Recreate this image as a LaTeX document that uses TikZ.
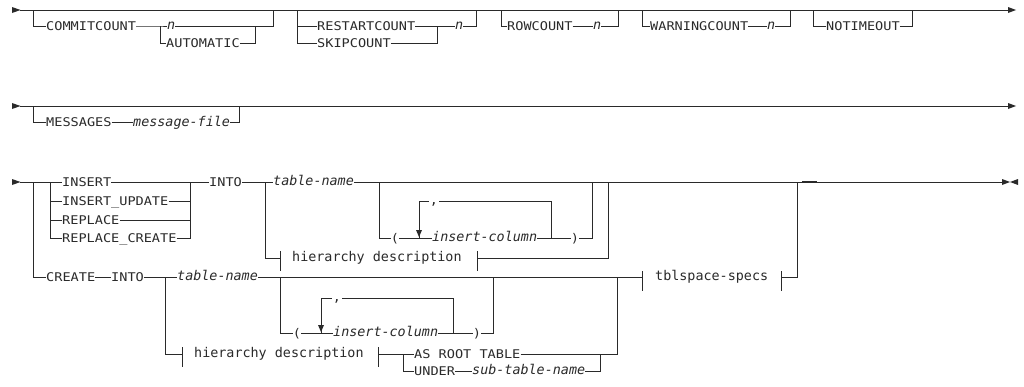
\documentclass[tikz,border=0pt]{standalone}
\usepackage{fontspec}
\newfontfamily\kwfont[FakeStretch=1.13]{DejaVu Sans Mono}
\newfontfamily\frfont{DejaVu Sans Mono}
\newfontfamily\varfont{DejaVu Sans Mono Oblique}
\newcommand\kwf{\kwfont\fontsize{12}{14}\selectfont}
\newcommand\frf{\frfont\fontsize{13.4}{15}\selectfont}
\newcommand\varf{\varfont\fontsize{13.4}{15}\selectfont}
\definecolor{ink}{HTML}{2A2A2A}
\begin{document}
\begin{tikzpicture}[x=1pt,y=-1pt,
  rr/.style={draw=ink, line width=1pt},
  kw/.style={font=\kwf, text=ink, anchor=west, inner sep=0pt, text height=8.8pt, text depth=0pt},
  vr/.style={font=\varf, text=ink, anchor=west, inner sep=0pt, text height=7.3pt, text depth=0pt},
  fr/.style={font=\frf, text=ink, anchor=west, inner sep=0pt, text height=7.3pt, text depth=0pt},
  sep/.style={fr, anchor=center, fill=white, inner xsep=1pt},
  tip/.style={fill=ink}]
\fill[white] (0,0) rectangle (1024,386);
\useasboundingbox (0,0) rectangle (1024,386);

% ================= Row 1 =================
\coordinate (r1s) at (20,10); \coordinate (r1e) at (1008,10);
\fill[tip] (12,7) -- (20.5,10) -- (12,13) -- cycle;
\draw[rr] (r1s) -- (r1e);
\fill[tip] (1008,7) -- (1016,10) -- (1008,13) -- cycle;

% COMMITCOUNT group
\coordinate (a1) at (33,10); \coordinate (a2) at (273,10);
\coordinate (b1) at (160,26); \coordinate (b2) at (255,26);
\node[kw] (commit) at (46,26) {COMMITCOUNT};
\node[vr] (n1) at (167,26) {n};
\node[kw] (auto) at (166,43) {AUTOMATIC};
\draw[rr] (a1) |- (commit.west);
\draw[rr] (commit.east) -- (b1) -- (n1.west);
\draw[rr] (n1.east) -| (a2);
\draw[rr] (b1) |- (auto.west);
\draw[rr] (auto.east) -| (b2);

% RESTARTCOUNT group
\coordinate (c1) at (297,10); \coordinate (c2) at (476,10); \coordinate (c3) at (437,26);
\node[kw] (restart) at (317,26) {RESTARTCOUNT};
\node[kw] (skip) at (317,43) {SKIPCOUNT};
\node[vr] (n2) at (455,26) {n};
\draw[rr] (c1) |- (restart.west);
\draw[rr] (c1) |- (skip.west);
\draw[rr] (restart.east) -- (n2.west);
\draw[rr] (skip.east) -| (c3);
\draw[rr] (n2.east) -| (c2);

% ROWCOUNT group
\coordinate (d1) at (501,10); \coordinate (d2) at (618,10);
\node[kw] (row) at (507,26) {ROWCOUNT};
\node[vr] (n3) at (593,26) {n};
\draw[rr] (d1) |- (row.west);
\draw[rr] (row.east) -- (n3.west);
\draw[rr] (n3.east) -| (d2);

% WARNINGCOUNT group
\coordinate (e1) at (642,10); \coordinate (e2) at (790,10);
\node[kw] (warn) at (650,26) {WARNINGCOUNT};
\node[vr] (n4) at (767,26) {n};
\draw[rr] (e1) |- (warn.west);
\draw[rr] (warn.east) -- (n4.west);
\draw[rr] (n4.east) -| (e2);

% NOTIMEOUT group
\coordinate (f1) at (813,10); \coordinate (f2) at (912,10);
\node[kw] (notime) at (826,26) {NOTIMEOUT};
\draw[rr] (f1) |- (notime.west);
\draw[rr] (notime.east) -| (f2);

% ================= Row 2 =================
\coordinate (r2s) at (20,106); \coordinate (r2e) at (1008,106);
\fill[tip] (12,103) -- (20.5,106) -- (12,109) -- cycle;
\draw[rr] (r2s) -- (r2e);
\fill[tip] (1008,103) -- (1016,106) -- (1008,109) -- cycle;
\coordinate (g1) at (33,106); \coordinate (g2) at (239,106);
\node[kw] (msg) at (46,122.5) {MESSAGES};
\node[vr] (mfile) at (133,122.5) {message-file};
\draw[rr] (g1) |- (msg.west);
\draw[rr] (msg.east) -- (mfile.west);
\draw[rr] (mfile.east) -| (g2);

% ================= Row 3 =================
\coordinate (r3s) at (20,182); \coordinate (r3e) at (1002,182);
\fill[tip] (12,179) -- (20.5,182) -- (12,185) -- cycle;
\fill[tip] (1002,179) -- (1010,182) -- (1002,185) -- cycle;
\fill[tip] (1018,179) -- (1010,182) -- (1018,185) -- cycle;

\node[kw] (ins) at (62,182) {INSERT};
\node[kw] (insu) at (62,201) {INSERT\_UPDATE};
\node[kw] (rep) at (62,220) {REPLACE};
\node[kw] (repc) at (62,238) {REPLACE\_CREATE};
\node[kw] (into1) at (209,182) {INTO};
\node[vr] (tn1) at (273,182) {table-name};
\coordinate (i1) at (50,182); \coordinate (i2) at (190,182);
\coordinate (a3) at (33,182);
\draw[rr] (r3s) -- (ins.west);
\draw[rr] (i1) |- (insu.west);
\draw[rr] (i1) |- (rep.west);
\draw[rr] (i1) |- (repc.west);
\draw[rr] (ins.east) -- (into1.west);
\draw[rr] (insu.east) -| (i2);
\draw[rr] (rep.east) -| (i2);
\draw[rr] (repc.east) -| (i2);
\draw[rr] (into1.east) -- (tn1.west);
\draw[rr] (tn1.east) -- (r3e);
\draw[rr, line width=2pt] (802,182) -- (817,182);

% upper ( insert-column )
\coordinate (pj1) at (379,182); \coordinate (pj2) at (592,182);
\node[kw, anchor=center] (lp1) at (395,238) {(};
\node[vr] (ic1) at (432,238) {insert-column};
\node[kw, anchor=center] (rp1) at (575,238) {)};
\draw[rr] (pj1) |- (lp1.west);
\draw[rr] (lp1.east) -- (ic1.west);
\draw[rr] (ic1.east) -- (rp1.west);
\draw[rr] (rp1.east) -| (pj2);
\coordinate (lpA) at (419,238); \coordinate (lpB) at (551,238);
\coordinate (lt1) at (419,201); \coordinate (lt2) at (551,201);
\draw[rr] (lpB) -- (lt2) -- (lt1) -- (lpA);
\node[sep] (cm1) at (434,201) {,};
\fill[tip] (416,230) -- (422,230) -- (419,237) -- cycle;

% upper hierarchy description
\coordinate (hj1) at (265,182); \coordinate (hj2) at (608,182);
\coordinate (tka) at (280,258); \coordinate (tkb) at (477,258);
\node[fr] (hd1) at (292,258) {hierarchy description};
\draw[rr] (hj1) |- (tka);
\draw[rr] (tka) ++(0,-7) -- ++(0,20);
\draw[rr] (tkb) ++(0,-7) -- ++(0,20);
\draw[rr] (tkb) -| (hj2);

% CREATE row
\node[kw] (create) at (46,277) {CREATE};
\node[kw] (into2) at (111,277) {INTO};
\node[vr] (tn2) at (177,277) {table-name};
\coordinate (tk5) at (642,277); \coordinate (tk6) at (781,277);
\coordinate (e3) at (797,182);
\node[fr] (ts) at (655,277) {tblspace-specs};
\draw[rr] (a3) |- (create.west);
\draw[rr] (create.east) -- (into2.west);
\draw[rr] (into2.east) -- (tn2.west);
\draw[rr] (tn2.east) -- (tk5);
\draw[rr] (tk5) ++(0,-6) -- ++(0,20);
\draw[rr] (tk6) ++(0,-6) -- ++(0,20);
\draw[rr] (tk6) -| (e3);

% lower ( insert-column )
\coordinate (pj3) at (280,277); \coordinate (pj4) at (493,277);
\node[kw, anchor=center] (lp2) at (297,333) {(};
\node[vr] (ic2) at (333,333) {insert-column};
\node[kw, anchor=center] (rp2) at (477,333) {)};
\draw[rr] (pj3) |- (lp2.west);
\draw[rr] (lp2.east) -- (ic2.west);
\draw[rr] (ic2.east) -- (rp2.west);
\draw[rr] (rp2.east) -| (pj4);
\coordinate (lpC) at (321,333); \coordinate (lpD) at (453,333);
\coordinate (lt3) at (321,298); \coordinate (lt4) at (453,298);
\draw[rr] (lpD) -- (lt4) -- (lt3) -- (lpC);
\node[sep] (cm2) at (337,298) {,};
\fill[tip] (318,325) -- (324,325) -- (321,332) -- cycle;

% lower hierarchy description + AS ROOT TABLE / UNDER
\coordinate (hj3) at (165,277);
\coordinate (tk3) at (182,354); \coordinate (tk4) at (378,354);
\node[fr] (hd2) at (194,354) {hierarchy description};
\draw[rr] (hj3) |- (tk3);
\draw[rr] (tk3) ++(0,-7) -- ++(0,20);
\draw[rr] (tk4) ++(0,-7) -- ++(0,20);
\node[kw] (asroot) at (414,354) {AS ROOT TABLE};
\node[kw] (under) at (414,371) {UNDER};
\node[vr] (stn) at (472,371) {sub-table-name};
\coordinate (uj1) at (403,354); \coordinate (uj2) at (600,354); \coordinate (uj3) at (617,277);
\draw[rr] (tk4) -- (asroot.west);
\draw[rr] (uj1) |- (under.west);
\draw[rr] (under.east) -- (stn.west);
\draw[rr] (stn.east) -| (uj2);
\draw[rr] (asroot.east) -| (uj3);
\end{tikzpicture}
\end{document}
